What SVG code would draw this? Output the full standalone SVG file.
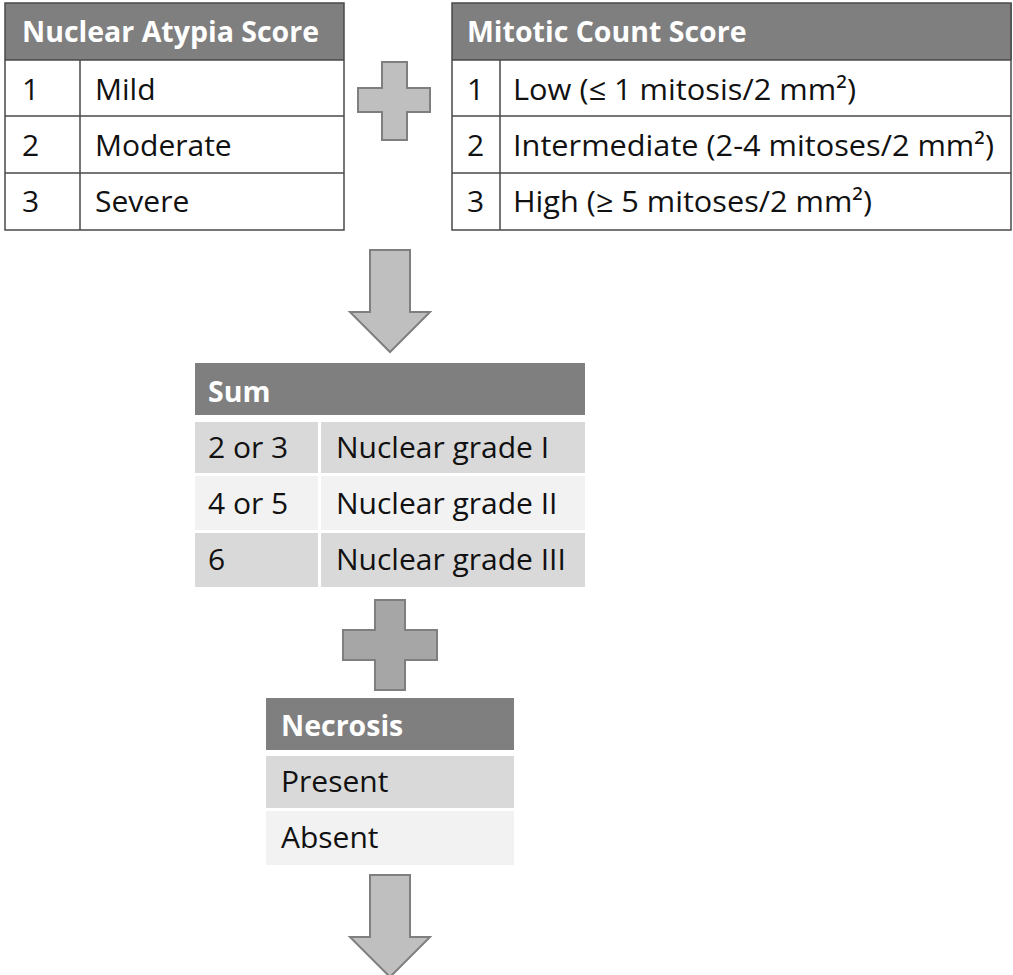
<svg xmlns="http://www.w3.org/2000/svg" width="1013" height="975" viewBox="0 0 1013 975">
<style>
text{font-family:"Open Sans","Liberation Sans",sans-serif;font-size:30px;fill:#111}
.h{font-weight:bold;fill:#fff;font-size:28.5px}
.hd{fill:#7f7f7f}
.grid{fill:none;stroke:#4a4a4a;stroke-width:1.5}
.shape{fill:#bfbfbf;stroke:#7f7f7f;stroke-width:2}
.dk{fill:#a6a6a6}
.r1{fill:#d9d9d9}.r2{fill:#f2f2f2}
</style>
<rect width="1013" height="975" fill="#fff"/>
<g id="atypia">
<rect x="5" y="3" width="339" height="57" class="hd"/>
<rect x="5" y="60" width="339" height="170" fill="#fff"/>
<path class="grid" d="M5 3H344V230H5Z M5 60H344 M5 116H344 M5 173H344 M80 60V230"/>
<text x="22" y="42" class="h">Nuclear Atypia Score</text>
<text x="22" y="100">1</text><text x="95" y="100">Mild</text>
<text x="22" y="156">2</text><text x="95" y="156">Moderate</text>
<text x="22" y="212">3</text><text x="95" y="212">Severe</text>
</g>
<g id="plus1"><path class="shape" d="M382 62H407V88H430V112H407V140H382V112H358V88H382Z"/></g>
<g id="mitotic">
<rect x="452" y="3" width="560" height="57" class="hd"/>
<rect x="452" y="60" width="560" height="170" fill="#fff"/>
<path class="grid" d="M452 3H1011V230H452Z M452 60H1011 M452 116H1011 M452 173H1011 M500 60V230"/>
<text x="467" y="42" class="h">Mitotic Count Score</text>
<text x="467" y="100">1</text><text x="513" y="100" textLength="343" lengthAdjust="spacingAndGlyphs">Low (≤ 1 mitosis/2 mm²)</text>
<text x="467" y="156">2</text><text x="513" y="156" textLength="481" lengthAdjust="spacingAndGlyphs">Intermediate (2-4 mitoses/2 mm²)</text>
<text x="467" y="212">3</text><text x="513" y="212" textLength="359" lengthAdjust="spacingAndGlyphs">High (≥ 5 mitoses/2 mm²)</text>
</g>
<g id="connectors">
<path id="arrow1" class="shape" d="M370 250H410V312H430L390 352L350 312H370Z"/>
<path id="arrow2" class="shape" d="M370 875H410V937H430L390 977L350 937H370Z"/>
</g>
<g id="sum">
<rect x="195" y="363" width="390" height="52" class="hd"/>
<rect x="195" y="422" width="123" height="51" class="r1"/><rect x="321" y="422" width="264" height="51" class="r1"/>
<rect x="195" y="476" width="123" height="54" class="r2"/><rect x="321" y="476" width="264" height="54" class="r2"/>
<rect x="195" y="533" width="123" height="54" class="r1"/><rect x="321" y="533" width="264" height="54" class="r1"/>
<text x="208" y="402" class="h">Sum</text>
<text x="208" y="458">2 or 3</text><text x="336" y="458">Nuclear grade I</text>
<text x="208" y="514">4 or 5</text><text x="336" y="514">Nuclear grade II</text>
<text x="208" y="570">6</text><text x="336" y="570">Nuclear grade III</text>
</g>
<g id="plus2"><path class="shape dk" d="M375 600H405V630H437V660H405V690H375V660H343V630H375Z"/></g>
<g id="necrosis">
<rect x="266" y="698" width="248" height="52" class="hd"/>
<rect x="266" y="756" width="248" height="52" class="r1"/>
<rect x="266" y="811" width="248" height="54" class="r2"/>
<text x="281" y="736" class="h">Necrosis</text>
<text x="281" y="792">Present</text>
<text x="281" y="848">Absent</text>
</g>
</svg>
